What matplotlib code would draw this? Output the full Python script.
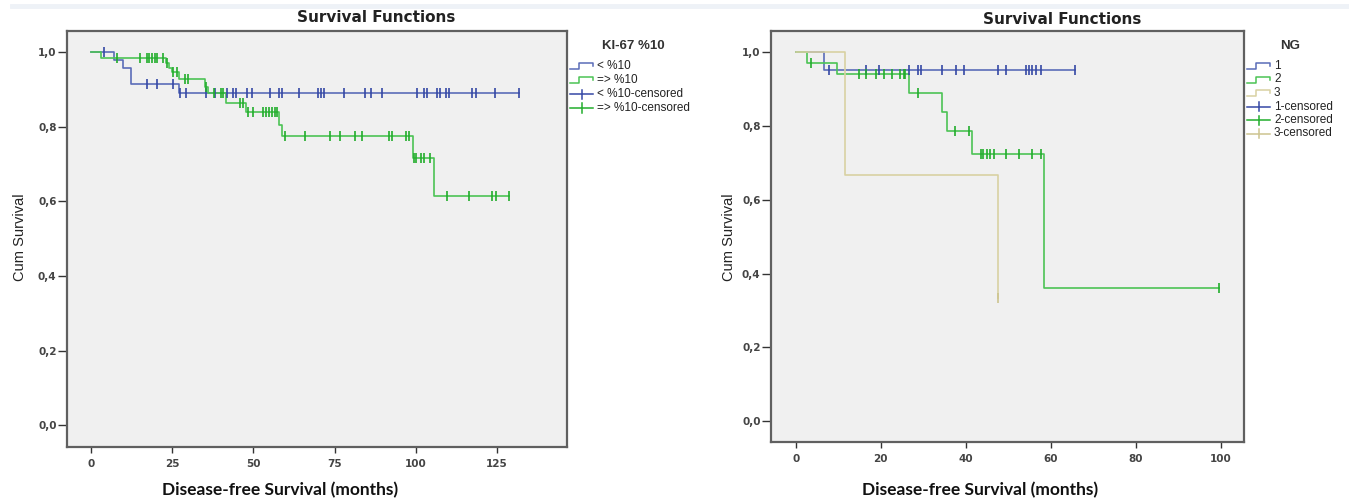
import numpy as np
import matplotlib
matplotlib.use("Agg")
import matplotlib.pyplot as plt
from matplotlib.lines import Line2D
from matplotlib.ticker import FuncFormatter

W, H = 1349, 504

# ---- KI-67 panel (left) ----
ki_title = "KI-67 %10"
ki_labels = ["< %10", "=> %10"]
ki_low_t = [0, 7.0, 9.8, 12.1, 27.0]
ki_low_s = [1.0, 0.978, 0.956, 0.913, 0.889]
ki_low_cens = [4.0, 17.1, 20.2, 25.3, 27.3, 29.1, 35.3, 38.0, 41.8, 43.6, 44.5,
               48.0, 49.7, 55.0, 58.0, 58.8, 63.9, 69.8, 70.9, 71.9, 77.8, 84.5,
               86.4, 89.5, 100.5, 102.6, 103.4, 106.7, 107.5, 109.3, 110.3, 117.5,
               118.5, 124.4, 131.8]
ki_high_t = [0, 2.9, 23.0, 24.1, 24.8, 27.1, 35.1, 35.9, 41.6, 47.7, 58.0, 58.8,
             99.2, 105.7]
ki_high_s = [1.0, 0.984, 0.969, 0.956, 0.947, 0.927, 0.907, 0.889, 0.863, 0.838,
             0.805, 0.774, 0.715, 0.613]
ki_high_cens = [7.8, 15.0, 17.1, 17.9, 18.8, 19.6, 20.3, 22.0, 23.3, 25.3, 26.3,
                28.9, 29.9, 35.3, 37.9, 40.0, 40.7, 45.9, 46.7, 48.2, 49.8, 52.9,
                54.0, 54.9, 55.7, 56.7, 57.4, 59.8, 66.0, 73.7, 76.8, 81.4, 83.5,
                91.7, 92.6, 96.9, 97.9, 99.6, 100.2, 101.8, 102.6, 104.6, 109.6,
                116.5, 123.7, 124.7, 128.8]

# ---- NG panel (right) ----
ng_title = "NG"
ng_labels = ["1", "2", "3"]
ng1_t = [0, 6.7]
ng1_s = [1.0, 0.953]
ng1_cens = [7.8, 16.6, 19.6, 26.6, 28.8, 29.5, 34.5, 37.8, 39.5, 47.5, 49.5, 54.2,
            54.8, 55.6, 56.5, 57.7, 65.8]
ng2_t = [0, 2.7, 9.8, 26.6, 34.5, 35.7, 41.5, 58.5]
ng2_s = [1.0, 0.971, 0.941, 0.891, 0.837, 0.786, 0.724, 0.362]
ng2_cens = [3.7, 14.8, 16.6, 18.8, 20.7, 22.7, 24.6, 25.4, 25.8, 28.8, 37.6, 40.7,
            43.6, 44.2, 45.0, 45.7, 46.6, 49.5, 52.6, 55.6, 57.7, 99.6]
ng3_t = [0, 11.7, 47.7]
ng3_s = [1.0, 0.667, 0.333]
ng3_cens = [47.7]

BLUE = ("#5a6cb8", "#3548a5")
GREEN = ("#4cc355", "#22ad2c")
TAN = ("#d8d1a2", "#cdc48f")


def draw_km(ax, t, s, cens, cols):
    t = np.asarray(t, float)
    s = np.asarray(s, float)
    cens = np.asarray(cens, float)
    end = max(t[-1], cens.max())
    ax.step(np.append(t, end), np.append(s, s[-1]), where="post",
            color=cols[0], lw=1.2, zorder=2)
    # censored marks sit on the curve at their time
    sc = s[np.searchsorted(t, cens, side="right") - 1]
    ax.plot(cens, sc, ls="none", marker="|", ms=6.5, mew=1.2,
            color=cols[1], zorder=3)


def style_axes(ax, xticks, xlim, ylim):
    ax.set_facecolor("#f0f0f0")
    ax.set_xlim(*xlim)
    ax.set_ylim(*ylim)
    ax.set_xticks(xticks)
    ax.set_yticks(np.arange(0, 1.01, 0.2))
    ax.yaxis.set_major_formatter(FuncFormatter(lambda v, p: f"{v:.1f}".replace(".", ",")))
    for sp in ax.spines.values():
        sp.set_color("#606060")
        sp.set_linewidth(1.6)
    ax.tick_params(axis="y", length=6.5, width=1, color="#333333", pad=1,
                   labelsize=7.5, labelcolor="#444444")
    ax.tick_params(axis="x", length=4.5, width=1, color="#333333", pad=4,
                   labelsize=7.5, labelcolor="#444444")
    for lab in ax.get_xticklabels() + ax.get_yticklabels():
        lab.set_fontweight("bold")


def fx(x):
    return x / W


def fy(y):
    return 1 - y / H


def legend(fig, x0, y0, dy, title, title_x, labels, cols):
    fig.text(fx(title_x), fy(46), title, ha="center", va="center",
             fontsize=9.5, fontweight="bold", color="#333333", family="Liberation Sans")
    rows = [(lab, c, "step") for lab, c in zip(labels, cols)]
    rows += [(lab + "-censored", c, "cens") for lab, c in zip(labels, cols)]
    for i, (lab, c, kind) in enumerate(rows):
        y = y0 + i * dy
        if kind == "step":
            xs = x0 + np.array([0, 0.4, 0.4, 1, 1]) * 23
            ys = y + np.array([3, 3, -3, -3, 0])
            fig.add_artist(Line2D(fx(xs), fy(ys), color=c[0], lw=1.1))
        else:
            fig.add_artist(Line2D(fx(np.array([x0, x0 + 23])), fy(np.array([y, y])),
                                  color=c[1], lw=1.1))
            fig.add_artist(Line2D(fx(np.array([x0 + 11.5] * 2)),
                                  fy(np.array([y - 4.5, y + 4.5])), color=c[1], lw=1.1))
        fig.text(fx(x0 + 27), fy(y), lab, ha="left", va="center", fontsize=8.5,
                 color="#222222", family="Liberation Sans")


fig = plt.figure(figsize=(W / 100, H / 100), dpi=100)
fig.add_artist(Line2D([12 / W, 1], [fy(6), fy(6)], color="#eef2f7", lw=3.5))

ax1 = fig.add_axes([fx(67), fy(447), fx(567 - 67), (447 - 31) / H])
draw_km(ax1, ki_low_t, ki_low_s, ki_low_cens, BLUE)
draw_km(ax1, ki_high_t, ki_high_s, ki_high_cens, GREEN)
style_axes(ax1, [0, 25, 50, 75, 100, 125], (-7.5, 146.7), (-0.058, 1.056))

ax2 = fig.add_axes([fx(771), fy(442), fx(1244 - 771), (442 - 31) / H])
draw_km(ax2, ng1_t, ng1_s, ng1_cens, BLUE)
draw_km(ax2, ng2_t, ng2_s, ng2_cens, GREEN)
draw_km(ax2, ng3_t, ng3_s, ng3_cens, TAN)
style_axes(ax2, [0, 20, 40, 60, 80, 100], (-5.8, 105.5), (-0.057, 1.058))

for cx, cy in [(376, 18), (1062, 19)]:
    fig.text(fx(cx), fy(cy), "Survival Functions", ha="center", va="center",
             fontsize=11, fontweight="bold", color="#222222")
for cx in [280, 980]:
    fig.text(fx(cx), fy(490), "Disease-free Survival (months)", ha="center",
             va="center", fontsize=12.5, fontweight="bold", family="Lato", color="#111111")
for cx in [20, 729]:
    fig.text(fx(cx), fy(237), "Cum Survival", ha="center", va="center",
             rotation=90, fontsize=10.5, family="Liberation Sans", color="#222222")

legend(fig, 570, 66, 14, ki_title, 633, ki_labels, [BLUE, GREEN])
legend(fig, 1247, 66, 13.5, ng_title, 1290, ng_labels, [BLUE, GREEN, TAN])

fig.savefig("out.png", dpi=100)
